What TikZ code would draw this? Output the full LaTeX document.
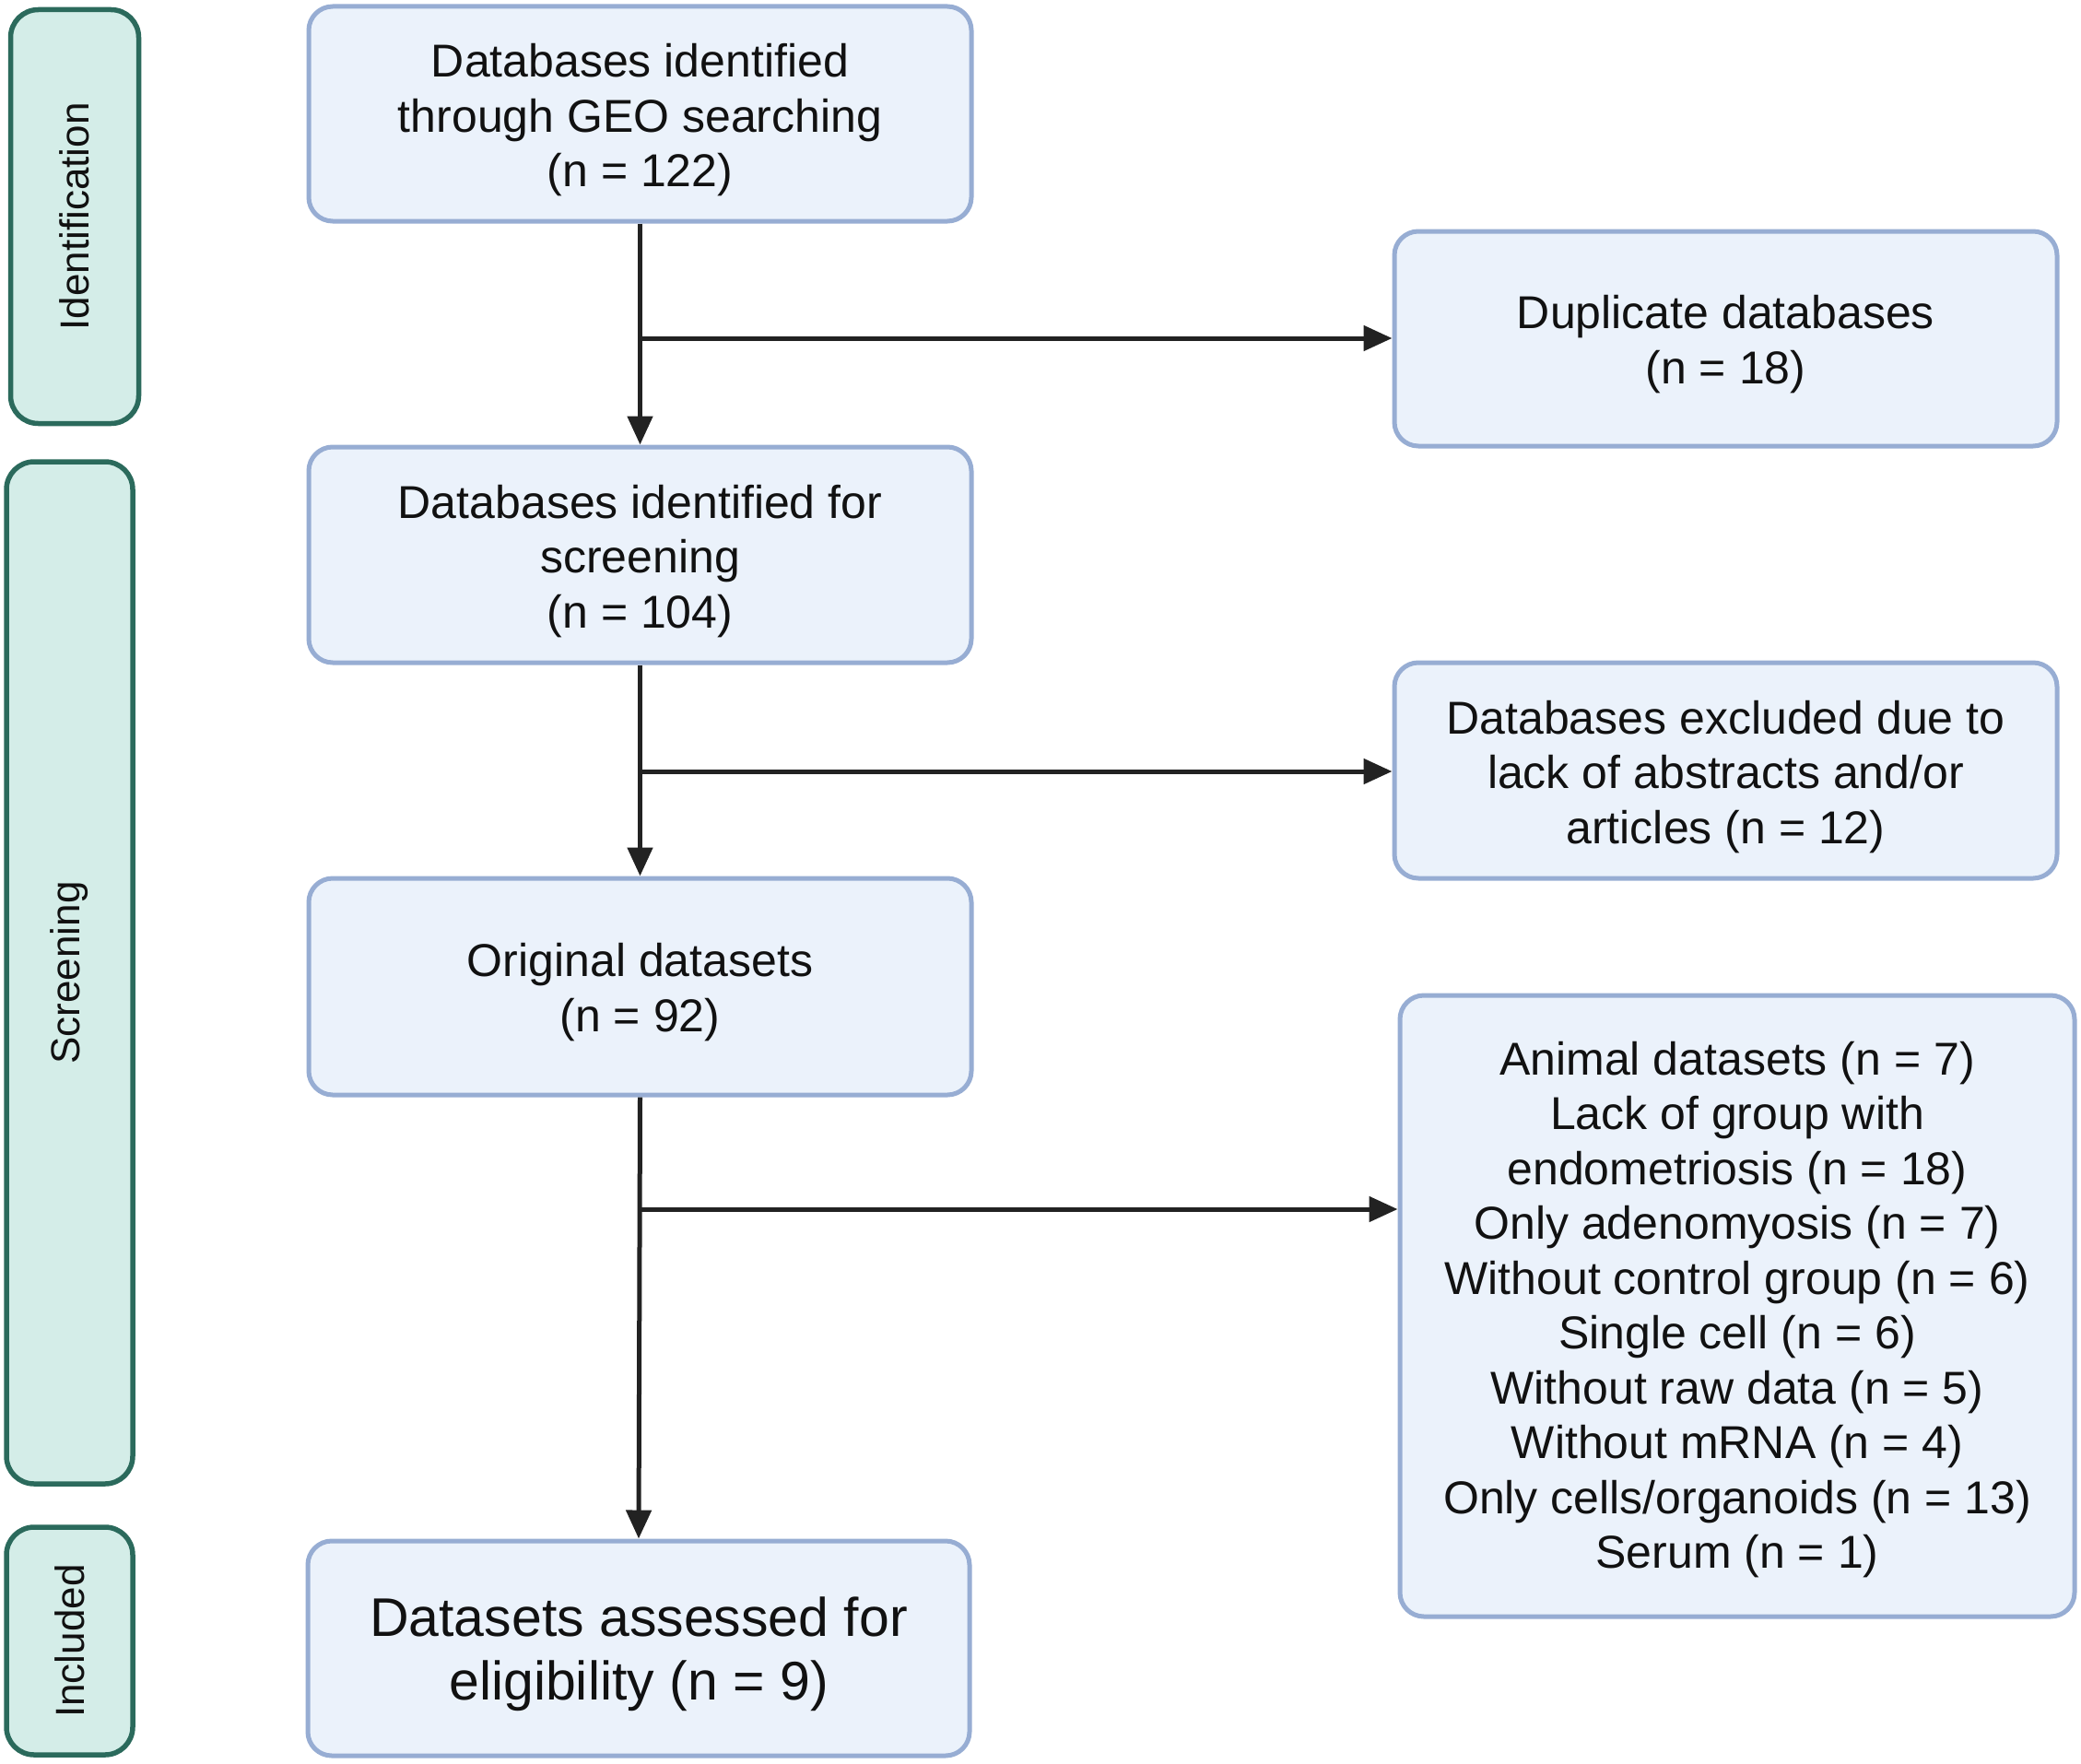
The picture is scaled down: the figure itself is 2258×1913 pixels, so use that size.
\documentclass[tikz,border=0pt]{standalone}
\usepackage{fontspec}
\setmainfont{Liberation Sans}
\usetikzlibrary{arrows.meta}
\definecolor{boxfill}{HTML}{EBF2FB}
\definecolor{boxline}{HTML}{97ADD3}
\definecolor{sidefill}{HTML}{D4EDE8}
\definecolor{sideline}{HTML}{2B6A5C}
\definecolor{arrowc}{HTML}{222222}
\definecolor{txt}{HTML}{111111}
\tikzset{
  mainbox/.style={draw=boxline, fill=boxfill, line width=5pt, rounded corners=26pt, inner sep=0pt},
  boxtext/.style={align=center, text=txt, inner sep=0pt, font=\fontsize{50}{59.5}\selectfont},
  sidebox/.style={draw=sideline, fill=sidefill, line width=5.5pt, rounded corners=30pt,
    rotate=90, text=txt, inner sep=0pt, font=\fontsize{44}{50}\selectfont},
  flow/.style={draw=arrowc, line width=5pt, -{Triangle[length=31pt,width=27pt]}}
}
\begin{document}
\begin{tikzpicture}[x=1pt,y=-1pt]
\useasboundingbox[fill=white] (0,0) rectangle (2258,1913);
% side labels
\node[sidebox, minimum width=449pt, minimum height=139pt] (ident) at (81,235) {Identification};
\node[sidebox, minimum width=1109pt, minimum height=137pt] (screen) at (75.5,1055.5) {Screening};
\node[sidebox, minimum width=247pt, minimum height=137pt] (incl) at (75.5,1780.5) {Included};
% main column
\node[mainbox, minimum width=719pt, minimum height=233pt] (b1) at (694.5,123.5) {};
\node[boxtext] (t1) at ([yshift=-7pt]b1.center) {Databases identified\\through GEO searching\\(n = 122)};
\node[mainbox, minimum width=719pt, minimum height=234pt] (b2) at (694.5,602) {};
\node[boxtext] (t2) at ([yshift=-7pt]b2.center) {Databases identified for\\screening\\(n = 104)};
\node[mainbox, minimum width=719pt, minimum height=235pt] (b3) at (694.5,1070.5) {};
\node[boxtext] (t3) at ([yshift=-6pt]b3.center) {Original datasets\\(n = 92)};
\node[mainbox, minimum width=718pt, minimum height=233pt] (b4) at (693,1788.5) {};
\node[boxtext, font=\fontsize{59}{69}\selectfont] (t4) at ([yshift=-6pt]b4.center) {Datasets assessed for\\eligibility (n = 9)};
% right column
\node[mainbox, minimum width=719pt, minimum height=233pt] (dup) at (1872.5,367.5) {};
\node[boxtext] (t5) at ([yshift=-6pt]dup.center) {Duplicate databases\\(n = 18)};
\node[mainbox, minimum width=719pt, minimum height=234pt] (excl) at (1872.5,836) {};
\node[boxtext] (t6) at ([yshift=-7pt]excl.center) {Databases excluded due to\\lack of abstracts and/or\\articles (n = 12)};
\node[mainbox, minimum width=732pt, minimum height=674pt] (big) at (1885,1417) {};
\node[boxtext] (t7) at ([yshift=-4pt]big.center)
  {Animal datasets (n = 7)\\Lack of group with\\endometriosis (n = 18)\\Only adenomyosis (n = 7)\\Without control group (n = 6)\\Single cell (n = 6)\\Without raw data (n = 5)\\Without mRNA (n = 4)\\Only cells/organoids (n = 13)\\Serum (n = 1)};
% connectors
\coordinate (j1) at (694.5,367);
\coordinate (j2) at (694.5,837);
\coordinate (j3) at (694.5,1312);
\draw[flow] (b1.south) -- (b2.north);
\draw[flow] (b2.south) -- (b3.north);
\draw[flow] (b3.south) -- (b4.north);
\draw[flow] (j1) -- (j1 -| dup.west);
\draw[flow] (j2) -- (j2 -| excl.west);
\draw[flow] (j3) -- (j3 -| big.west);
\end{tikzpicture}
\end{document}
